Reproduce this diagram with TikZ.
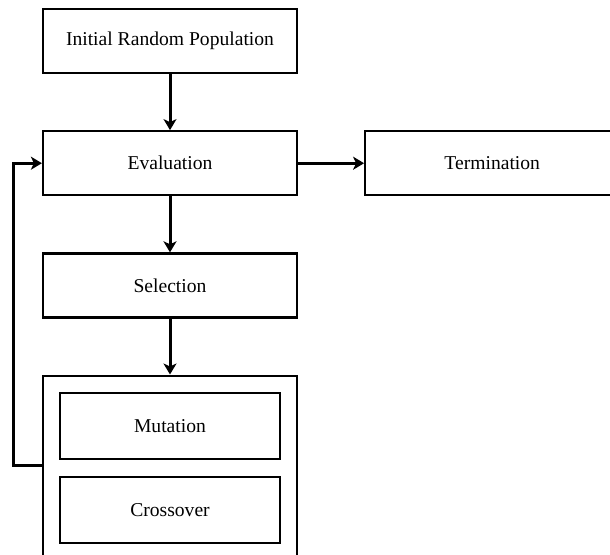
\documentclass[tikz,border=0pt]{standalone}
\usepackage{fontspec}
\setmainfont{Liberation Serif}
\usetikzlibrary{arrows.meta, positioning}
\tikzstyle{block} = [draw, rectangle, line width=1.1pt, minimum width=127pt, minimum height=32pt, inner sep=2pt, font=\fontsize{9.8}{12}\selectfont]
\tikzstyle{inner} = [block, minimum width=110pt, minimum height=33pt]
\tikzstyle{group} = [draw, rectangle, line width=1.1pt, minimum width=127pt, minimum height=93pt]
\tikzstyle{path} = [-{Stealth[length=5.5pt, width=6.5pt, inset=1.5pt]}, line width=1.5pt]

\begin{document}
\begin{tikzpicture}[node distance=28pt]
    \useasboundingbox (0,0) rectangle (305pt,-277pt);
    \clip (0,0) rectangle (305pt,-277pt);

    % Steps.
    \node (init) [block] at (85pt,-20.5pt) {Initial Random Population};
    \node (eval) [block, below=of init] {Evaluation};
    \node (term) [block, right=33pt of eval] {Termination};
    \node (sel) [block, below=of eval] {Selection};
    \node (ops) [group, below=of sel] {};

    % Operators.
    \node (mut) [inner, below=8.5pt of ops.north] {Mutation};
    \node (cross) [inner, below=8pt of mut] {Crossover};

    % Arrows.
    \draw [path] (init) -- (eval);
    \draw [path] (eval) -- (sel);
    \draw [path] (sel) -- (ops);
    \draw [path] (eval) -- (term);
    \draw [path] ([yshift=1.5pt]ops.west) -- ++(-14pt,0) |- (eval.west);
\end{tikzpicture}
\end{document}
